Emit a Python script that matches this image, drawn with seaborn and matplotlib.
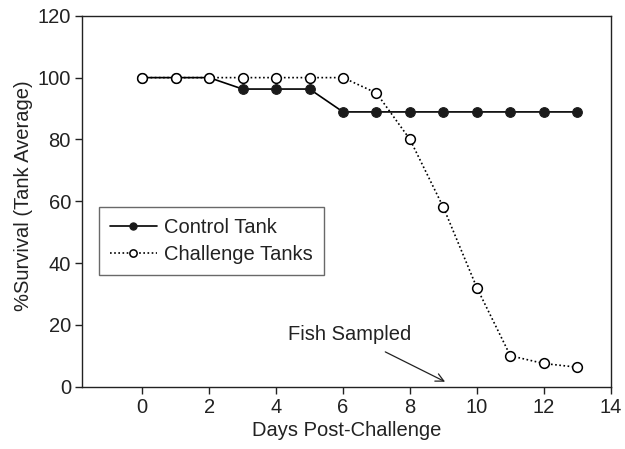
import pandas as pd
import seaborn as sns
import matplotlib.pyplot as plt

days = [0, 1, 2, 3, 4, 5, 6, 7, 8, 9, 10, 11, 12, 13]
control = [100, 100, 100, 96.3, 96.3, 96.3, 88.9, 88.9, 88.9, 88.9, 88.9, 88.9, 88.9, 88.9]
challenge = [100, 100, 100, 100, 100, 100, 100, 95, 80, 58, 32, 10, 7.5, 6.3]
x_ticks = [0, 2, 4, 6, 8, 10, 12, 14]
y_ticks = [0, 20, 40, 60, 80, 100, 120]

sns.set_style('ticks')
plt.rcParams['font.family'] = ['Liberation Sans', 'DejaVu Sans']

df = pd.DataFrame({'day': days, 'control': control, 'challenge': challenge})

fig = plt.figure(figsize=(6.25, 4.49), dpi=100)
ax = fig.add_axes([0.1312, 0.1388, 0.846, 0.826])

sns.lineplot(data=df, x='day', y='control', ax=ax, color='black', lw=1.2,
             marker='o', markersize=7, markerfacecolor='#1a1a1a', markeredgecolor='#1a1a1a',
             label='Control Tank')
sns.lineplot(data=df, x='day', y='challenge', ax=ax, color='black', lw=1.2, linestyle=(0, (1, 1.5)),
             marker='o', markersize=7, markerfacecolor='white', markeredgecolor='black',
             markeredgewidth=1.1, label='Challenge Tanks')

fs = 14.5
ax.set_xlim(-1.8, 14)
ax.set_ylim(0, 120)
ax.set_xticks(x_ticks)
ax.set_yticks(y_ticks)
ax.tick_params(labelsize=fs, length=5, width=1, color='#222222', labelcolor='#222222', pad=3)
ax.set_xlabel('Days Post-Challenge', fontsize=fs, color='#222222', labelpad=3)
ax.set_ylabel('%Survival (Tank Average)', fontsize=fs, color='#222222')
ax.yaxis.set_label_coords(-0.093, 0.515)
for s in ax.spines.values():
    s.set_linewidth(1)
    s.set_color('#222222')

leg = ax.legend(loc='upper left', bbox_to_anchor=(0.032, 0.484), fontsize=fs, fancybox=False,
                handlelength=2.33, markerscale=0.75, borderpad=0.55, labelspacing=0.4,
                handletextpad=0.35, borderaxespad=0)
leg.get_frame().set_edgecolor('#444444')
leg.get_frame().set_linewidth(1)
for t in leg.get_texts():
    t.set_color('#222222')

ax.annotate('Fish Sampled', xy=(9.05, 1.6), xytext=(6.2, 17), fontsize=fs, color='#222222',
            ha='center', va='center',
            arrowprops=dict(arrowstyle='->', color='#222222', lw=0.9, shrinkA=8, shrinkB=0))

fig.savefig('out.png', dpi=100)
